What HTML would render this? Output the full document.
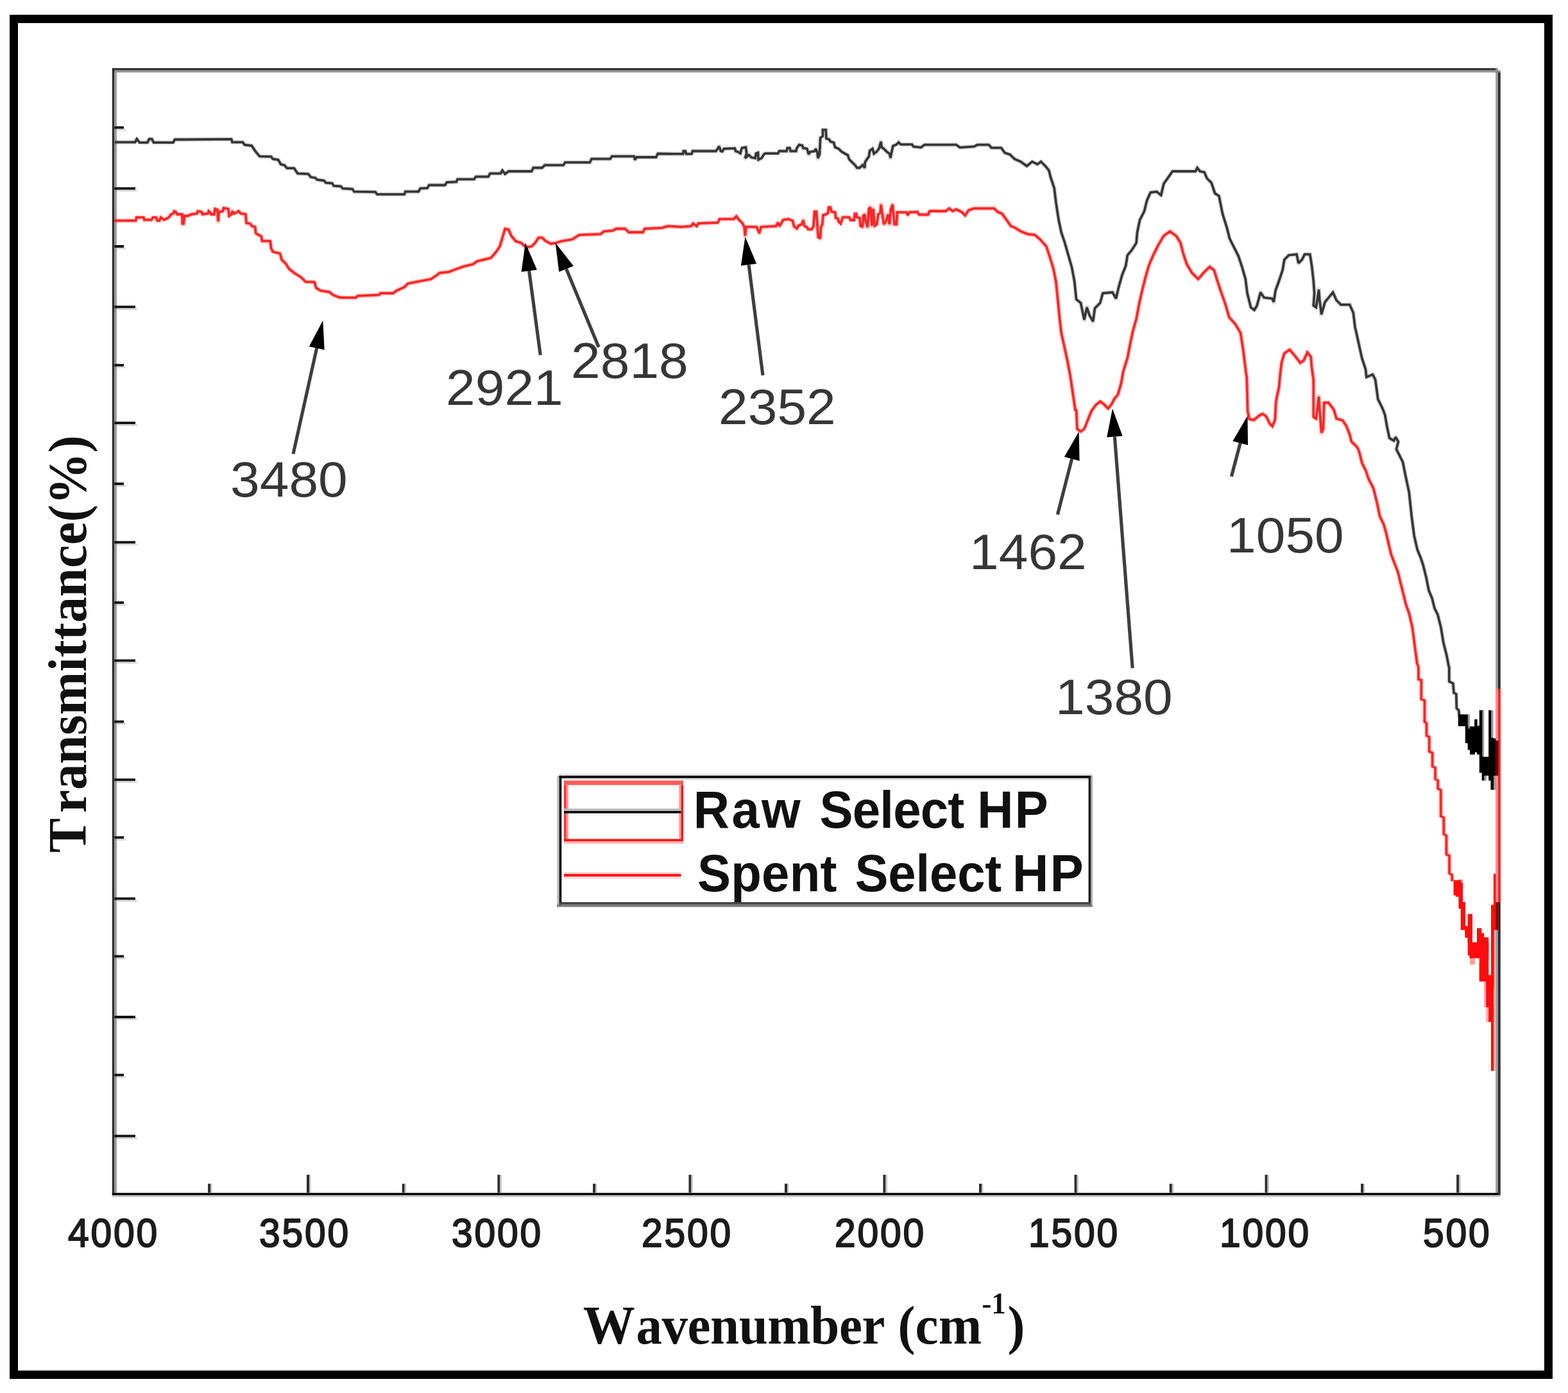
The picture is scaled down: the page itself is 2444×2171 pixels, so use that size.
<!DOCTYPE html>
<html lang="en">
<head>
<meta charset="utf-8">
<title>FTIR spectra - Raw and Spent Select HP</title>
<style>
html,body{margin:0;padding:0;background:#fff;}
body{width:2444px;height:2171px;position:relative;font-family:"Liberation Sans",sans-serif;color:#1a1a1a;}
.ann{position:absolute;font-family:"Liberation Sans",sans-serif;font-size:77.5px;line-height:1;white-space:nowrap;color:#363636;letter-spacing:0px;transform-origin:0 0;transform:scaleX(1.06);}
.xt{position:absolute;font-family:"Liberation Sans",sans-serif;font-weight:normal;-webkit-text-stroke:2px #1c1c1c;font-size:62.5px;line-height:1;white-space:nowrap;color:#1c1c1c;transform-origin:0 0;transform:scaleX(0.94);letter-spacing:3.0px;}
.leg{position:absolute;font-family:"Liberation Sans",sans-serif;font-weight:bold;font-size:78px;line-height:1;white-space:nowrap;color:#111;transform-origin:0 66px;transform:scaleY(1.035);}
.legline{position:absolute;left:0;top:0;width:0;height:0;}
.xl{position:absolute;font-family:"Liberation Serif",serif;font-weight:bold;font-size:81px;line-height:1;white-space:nowrap;color:#111;transform-origin:0 0;transform:scaleY(1.05);}
.xl sup{font-size:0.55em;line-height:0;vertical-align:baseline;position:relative;top:-1.0em;}
.yl{position:absolute;font-family:"Liberation Serif",serif;font-weight:bold;font-size:81px;line-height:1;white-space:nowrap;color:#111;transform-origin:0 0;transform:rotate(-90deg) scaleY(1.05);}
</style>
</head>
<body>
<svg width="2444" height="2171" viewBox="0 0 2444 2171" style="position:absolute;left:0;top:0"><rect x="21.5" y="29.5" width="2392" height="2113" fill="none" stroke="#000" stroke-width="13"/><rect x="175" y="106.2" width="2156" height="3.5" fill="#2e2e2e"/><rect x="178.4" y="109.7" width="2156.6" height="3.3" fill="#999"/><rect x="2331" y="106.2" width="4" height="7" fill="#8c8c8c"/><rect x="2335" y="109.7" width="3.8" height="3.4" fill="#8c8c8c"/><rect x="174.8" y="106.2" width="3.6" height="1756.6" fill="#2e2e2e"/><rect x="178.4" y="113" width="3.5" height="1746.2" fill="#999"/><rect x="2331.2" y="113" width="3.8" height="1746.2" fill="#999"/><rect x="2335" y="113" width="3.8" height="1749.8" fill="#2e2e2e"/><rect x="182" y="1855.6" width="2149" height="3.6" fill="#f3f3f3"/><rect x="174.8" y="1859.2" width="2160.2" height="3.6" fill="#000"/><rect x="174.8" y="1862.8" width="2164.0" height="3.0" fill="#cbcbcb"/><rect x="178.4" y="196.8" width="14.6" height="4" fill="#141414"/><rect x="182" y="200.8" width="14.0" height="2.6" fill="#d4d4d4"/><rect x="178.4" y="291.8" width="32.6" height="4" fill="#141414"/><rect x="182" y="295.8" width="32.0" height="2.6" fill="#d4d4d4"/><rect x="178.4" y="382.0" width="14.6" height="4" fill="#141414"/><rect x="182" y="386.0" width="14.0" height="2.6" fill="#d4d4d4"/><rect x="178.4" y="476.4" width="32.6" height="4" fill="#141414"/><rect x="182" y="480.4" width="32.0" height="2.6" fill="#d4d4d4"/><rect x="178.4" y="567.2" width="14.6" height="4" fill="#141414"/><rect x="182" y="571.2" width="14.0" height="2.6" fill="#d4d4d4"/><rect x="178.4" y="657.2" width="32.6" height="4" fill="#141414"/><rect x="182" y="661.2" width="32.0" height="2.6" fill="#d4d4d4"/><rect x="178.4" y="752.0" width="14.6" height="4" fill="#141414"/><rect x="182" y="756.0" width="14.0" height="2.6" fill="#d4d4d4"/><rect x="178.4" y="843.2" width="32.6" height="4" fill="#141414"/><rect x="182" y="847.2" width="32.0" height="2.6" fill="#d4d4d4"/><rect x="178.4" y="937.2" width="14.6" height="4" fill="#141414"/><rect x="182" y="941.2" width="14.0" height="2.6" fill="#d4d4d4"/><rect x="178.4" y="1027.6" width="32.6" height="4" fill="#141414"/><rect x="182" y="1031.6" width="32.0" height="2.6" fill="#d4d4d4"/><rect x="178.4" y="1122.8" width="14.6" height="4" fill="#141414"/><rect x="182" y="1126.8" width="14.0" height="2.6" fill="#d4d4d4"/><rect x="178.4" y="1213.3" width="32.6" height="4" fill="#141414"/><rect x="182" y="1217.3" width="32.0" height="2.6" fill="#d4d4d4"/><rect x="178.4" y="1303.3" width="14.6" height="4" fill="#141414"/><rect x="182" y="1307.3" width="14.0" height="2.6" fill="#d4d4d4"/><rect x="178.4" y="1398.6" width="32.6" height="4" fill="#141414"/><rect x="182" y="1402.6" width="32.0" height="2.6" fill="#d4d4d4"/><rect x="178.4" y="1488.5" width="14.6" height="4" fill="#141414"/><rect x="182" y="1492.5" width="14.0" height="2.6" fill="#d4d4d4"/><rect x="178.4" y="1583.0" width="32.6" height="4" fill="#141414"/><rect x="182" y="1587.0" width="32.0" height="2.6" fill="#d4d4d4"/><rect x="178.4" y="1673.5" width="14.6" height="4" fill="#141414"/><rect x="182" y="1677.5" width="14.0" height="2.6" fill="#d4d4d4"/><rect x="178.4" y="1768.6" width="32.6" height="4" fill="#141414"/><rect x="182" y="1772.6" width="32.0" height="2.6" fill="#d4d4d4"/><rect x="324.1" y="1844.8" width="4" height="14" fill="#2c2c2c"/><rect x="328.1" y="1844.8" width="2.4" height="14" fill="#c4c4c4"/><rect x="478.0" y="1830.8" width="4" height="28" fill="#2c2c2c"/><rect x="482.0" y="1830.8" width="2.4" height="28" fill="#c4c4c4"/><rect x="626.7" y="1844.8" width="4" height="14" fill="#2c2c2c"/><rect x="630.7" y="1844.8" width="2.4" height="14" fill="#c4c4c4"/><rect x="775.4" y="1830.8" width="4" height="28" fill="#2c2c2c"/><rect x="779.4" y="1830.8" width="2.4" height="28" fill="#c4c4c4"/><rect x="924.1" y="1844.8" width="4" height="14" fill="#2c2c2c"/><rect x="928.1" y="1844.8" width="2.4" height="14" fill="#c4c4c4"/><rect x="1073.5" y="1830.8" width="4" height="28" fill="#2c2c2c"/><rect x="1077.5" y="1830.8" width="2.4" height="28" fill="#c4c4c4"/><rect x="1223.0" y="1844.8" width="4" height="14" fill="#2c2c2c"/><rect x="1227.0" y="1844.8" width="2.4" height="14" fill="#c4c4c4"/><rect x="1376.5" y="1830.8" width="4" height="28" fill="#2c2c2c"/><rect x="1380.5" y="1830.8" width="2.4" height="28" fill="#c4c4c4"/><rect x="1526.0" y="1844.8" width="4" height="14" fill="#2c2c2c"/><rect x="1530.0" y="1844.8" width="2.4" height="14" fill="#c4c4c4"/><rect x="1674.6" y="1830.8" width="4" height="28" fill="#2c2c2c"/><rect x="1678.6" y="1830.8" width="2.4" height="28" fill="#c4c4c4"/><rect x="1822.8" y="1844.8" width="4" height="14" fill="#2c2c2c"/><rect x="1826.8" y="1844.8" width="2.4" height="14" fill="#c4c4c4"/><rect x="1971.6" y="1830.8" width="4" height="28" fill="#2c2c2c"/><rect x="1975.6" y="1830.8" width="2.4" height="28" fill="#c4c4c4"/><rect x="2121.1" y="1844.8" width="4" height="14" fill="#2c2c2c"/><rect x="2125.1" y="1844.8" width="2.4" height="14" fill="#c4c4c4"/><rect x="2270.2" y="1830.8" width="4" height="28" fill="#2c2c2c"/><rect x="2274.2" y="1830.8" width="2.4" height="28" fill="#c4c4c4"/><path id="raw-curve-blur" d="M178.9,221.6 L210.6,221.6 L213.3,216.6 L217.5,222.1 L229.8,222.1 L232.6,216.6 L236.7,216.6 L239.5,222.1 L269.8,222.1 L272.5,217.5 L279.4,217.5 L360.6,216.9 L362.0,221.6 L378.5,221.6 L381.3,225.7 L392.3,227.1 L397.8,235.4 L404.7,243.6 L422.6,244.2 L425.3,247.7 L433.6,249.1 L437.7,256.0 L443.2,257.4 L447.4,262.1 L458.4,262.1 L463.9,270.3 L480.4,271.1 L484.5,276.1 L491.4,277.2 L494.2,280.0 L505.2,281.6 L507.9,284.9 L517.6,285.5 L520.3,289.6 L531.3,290.4 L534.1,293.7 L549.2,294.5 L552.0,298.7 L585.0,299.2 L587.8,302.8 L630.3,302.8 L631.7,298.7 L652.3,298.7 L655.1,293.7 L666.1,293.2 L668.8,288.5 L693.6,288.5 L696.4,284.1 L711.5,283.5 L712.9,279.4 L739.0,279.4 L741.8,275.3 L761.1,275.3 L763.8,270.3 L780.3,270.3 L783.1,265.6 L787.2,271.1 L792.7,267.0 L828.5,267.0 L831.3,261.5 L845.0,261.5 L849.2,257.4 L878.1,257.4 L880.8,253.2 L919.4,253.2 L922.1,247.7 L951.0,247.7 L953.8,243.6 L988.2,243.6 L989.6,249.1 L992.3,245.0 L1022.6,245.0 L1025.4,239.5 L1050.0,239.8 L1064.7,239.8 L1065.3,235.5 L1068.3,235.5 L1069.6,239.8 L1078.1,239.8 L1079.4,235.5 L1116.0,235.5 L1118.5,231.8 L1120.9,228.1 L1123.4,235.5 L1125.8,236.1 L1128.3,231.8 L1145.4,231.2 L1146.6,235.5 L1150.3,236.7 L1154.0,239.1 L1156.4,230.6 L1162.5,229.4 L1163.7,239.1 L1161.3,246.5 L1167.4,241.6 L1171.1,245.3 L1177.2,246.5 L1178.4,239.1 L1181.5,237.9 L1182.1,248.9 L1187.0,246.5 L1190.7,240.4 L1193.1,239.1 L1212.7,239.1 L1214.5,235.5 L1226.1,235.5 L1227.3,230.6 L1231.0,230.6 L1232.2,235.5 L1240.8,235.5 L1242.0,230.6 L1245.7,225.7 L1250.6,226.9 L1251.8,230.6 L1257.9,231.8 L1260.4,240.4 L1262.8,236.7 L1270.2,235.5 L1271.4,231.8 L1273.8,236.7 L1275.0,246.5 L1277.5,240.4 L1278.7,214.7 L1282.4,212.2 L1282.4,202.4 L1287.3,202.4 L1287.9,215.9 L1292.2,217.1 L1294.6,220.8 L1299.5,222.0 L1301.6,229.6 L1307.1,231.8 L1311.5,236.2 L1317.0,239.5 L1321.4,241.7 L1323.6,248.3 L1326.9,251.6 L1330.2,254.9 L1333.5,258.2 L1335.7,261.5 L1340.1,261.5 L1344.5,257.1 L1347.8,261.5 L1348.4,252.7 L1351.1,248.3 L1354.4,243.9 L1355.6,235.1 L1360.0,231.8 L1362.2,239.5 L1366.6,236.2 L1369.9,231.8 L1373.2,220.7 L1374.3,229.6 L1377.6,231.8 L1382.0,236.2 L1386.4,239.5 L1388.0,246.1 L1389.7,237.3 L1391.9,227.4 L1397.4,225.2 L1400.7,221.9 L1404.0,225.2 L1421.6,225.2 L1423.8,228.5 L1435.5,229.8 L1441.0,225.7 L1490.5,225.7 L1496.0,229.8 L1518.1,228.5 L1523.6,225.7 L1527.5,225.7 L1541.3,225.7 L1545.4,230.4 L1560.6,230.4 L1566.1,238.1 L1574.3,240.9 L1581.2,247.7 L1590.9,251.9 L1600.5,258.8 L1608.8,251.9 L1617.0,256.0 L1622.5,251.9 L1629.4,258.8 L1634.9,265.6 L1637.7,276.7 L1643.2,293.2 L1645.9,315.2 L1650.1,342.7 L1654.2,362.0 L1659.7,378.5 L1665.2,397.8 L1670.7,417.1 L1674.8,439.1 L1677.6,466.6 L1684.5,472.1 L1690.0,498.3 L1694.1,479.0 L1698.2,491.4 L1703.7,501.0 L1706.5,480.4 L1714.8,472.1 L1718.9,457.0 L1734.0,455.6 L1739.5,465.3 L1743.7,447.4 L1749.2,428.1 L1754.7,414.3 L1757.4,397.8 L1764.3,389.5 L1771.2,378.5 L1772.6,362.0 L1776.7,342.7 L1783.6,329.0 L1787.7,312.4 L1793.2,300.1 L1802.9,298.7 L1809.7,304.2 L1813.9,286.3 L1820.8,276.7 L1827.6,267.0 L1863.4,267.0 L1866.2,261.5 L1870.3,267.0 L1877.2,268.4 L1881.3,278.0 L1888.2,284.9 L1893.7,301.4 L1900.0,305.5 L1905.5,333.0 L1912.4,355.1 L1916.5,371.6 L1923.4,385.4 L1930.3,399.1 L1935.8,415.6 L1941.3,434.9 L1944.1,456.9 L1949.6,479.0 L1955.1,483.1 L1959.2,476.2 L1964.7,455.6 L1970.2,463.8 L1982.6,465.2 L1985.4,470.7 L1988.1,452.8 L1993.6,437.7 L1999.1,421.1 L2001.9,404.6 L2008.8,397.7 L2021.1,396.4 L2023.9,410.1 L2029.4,404.6 L2033.5,396.4 L2041.8,396.4 L2044.5,412.9 L2047.3,437.7 L2048.7,456.9 L2047.3,476.2 L2051.4,479.0 L2055.6,451.4 L2056.9,468.0 L2059.7,490.0 L2065.2,470.7 L2072.1,462.4 L2077.6,455.6 L2083.1,468.0 L2090.0,474.8 L2103.7,474.8 L2109.3,487.2 L2112.0,509.3 L2117.5,534.0 L2123.0,558.8 L2128.5,575.3 L2129.9,587.7 L2139.5,583.6 L2143.7,591.9 L2147.8,622.1 L2154.7,635.9 L2158.8,646.9 L2161.6,663.4 L2165.7,682.7 L2172.6,686.8 L2175.3,681.3 L2179.5,688.2 L2176.5,700.0 L2180.4,707.9 L2186.4,719.8 L2190.4,739.7 L2196.3,767.4 L2200.3,805.1 L2204.2,834.8 L2209.2,856.6 L2214.1,868.5 L2218.1,880.4 L2223.1,900.3 L2227.0,920.1 L2232.0,932.0 L2236.0,947.9 L2240.9,957.8 L2245.9,977.6 L2249.8,1001.4 L2254.8,1021.2 L2257.8,1037.1 L2258.8,1040.0 L2258.8,1062.0 L2264.9,1065.3 L2266.0,1079.6 L2269.8,1081.9 L2270.4,1103.9 L2273.7,1107.2 L2274.8,1117.1" fill="none" stroke="#000" stroke-opacity="0.13" stroke-width="7.4" stroke-linejoin="round"/><path id="raw-curve" d="M178.9,221.6 L210.6,221.6 L213.3,216.6 L217.5,222.1 L229.8,222.1 L232.6,216.6 L236.7,216.6 L239.5,222.1 L269.8,222.1 L272.5,217.5 L279.4,217.5 L360.6,216.9 L362.0,221.6 L378.5,221.6 L381.3,225.7 L392.3,227.1 L397.8,235.4 L404.7,243.6 L422.6,244.2 L425.3,247.7 L433.6,249.1 L437.7,256.0 L443.2,257.4 L447.4,262.1 L458.4,262.1 L463.9,270.3 L480.4,271.1 L484.5,276.1 L491.4,277.2 L494.2,280.0 L505.2,281.6 L507.9,284.9 L517.6,285.5 L520.3,289.6 L531.3,290.4 L534.1,293.7 L549.2,294.5 L552.0,298.7 L585.0,299.2 L587.8,302.8 L630.3,302.8 L631.7,298.7 L652.3,298.7 L655.1,293.7 L666.1,293.2 L668.8,288.5 L693.6,288.5 L696.4,284.1 L711.5,283.5 L712.9,279.4 L739.0,279.4 L741.8,275.3 L761.1,275.3 L763.8,270.3 L780.3,270.3 L783.1,265.6 L787.2,271.1 L792.7,267.0 L828.5,267.0 L831.3,261.5 L845.0,261.5 L849.2,257.4 L878.1,257.4 L880.8,253.2 L919.4,253.2 L922.1,247.7 L951.0,247.7 L953.8,243.6 L988.2,243.6 L989.6,249.1 L992.3,245.0 L1022.6,245.0 L1025.4,239.5 L1050.0,239.8 L1064.7,239.8 L1065.3,235.5 L1068.3,235.5 L1069.6,239.8 L1078.1,239.8 L1079.4,235.5 L1116.0,235.5 L1118.5,231.8 L1120.9,228.1 L1123.4,235.5 L1125.8,236.1 L1128.3,231.8 L1145.4,231.2 L1146.6,235.5 L1150.3,236.7 L1154.0,239.1 L1156.4,230.6 L1162.5,229.4 L1163.7,239.1 L1161.3,246.5 L1167.4,241.6 L1171.1,245.3 L1177.2,246.5 L1178.4,239.1 L1181.5,237.9 L1182.1,248.9 L1187.0,246.5 L1190.7,240.4 L1193.1,239.1 L1212.7,239.1 L1214.5,235.5 L1226.1,235.5 L1227.3,230.6 L1231.0,230.6 L1232.2,235.5 L1240.8,235.5 L1242.0,230.6 L1245.7,225.7 L1250.6,226.9 L1251.8,230.6 L1257.9,231.8 L1260.4,240.4 L1262.8,236.7 L1270.2,235.5 L1271.4,231.8 L1273.8,236.7 L1275.0,246.5 L1277.5,240.4 L1278.7,214.7 L1282.4,212.2 L1282.4,202.4 L1287.3,202.4 L1287.9,215.9 L1292.2,217.1 L1294.6,220.8 L1299.5,222.0 L1301.6,229.6 L1307.1,231.8 L1311.5,236.2 L1317.0,239.5 L1321.4,241.7 L1323.6,248.3 L1326.9,251.6 L1330.2,254.9 L1333.5,258.2 L1335.7,261.5 L1340.1,261.5 L1344.5,257.1 L1347.8,261.5 L1348.4,252.7 L1351.1,248.3 L1354.4,243.9 L1355.6,235.1 L1360.0,231.8 L1362.2,239.5 L1366.6,236.2 L1369.9,231.8 L1373.2,220.7 L1374.3,229.6 L1377.6,231.8 L1382.0,236.2 L1386.4,239.5 L1388.0,246.1 L1389.7,237.3 L1391.9,227.4 L1397.4,225.2 L1400.7,221.9 L1404.0,225.2 L1421.6,225.2 L1423.8,228.5 L1435.5,229.8 L1441.0,225.7 L1490.5,225.7 L1496.0,229.8 L1518.1,228.5 L1523.6,225.7 L1527.5,225.7 L1541.3,225.7 L1545.4,230.4 L1560.6,230.4 L1566.1,238.1 L1574.3,240.9 L1581.2,247.7 L1590.9,251.9 L1600.5,258.8 L1608.8,251.9 L1617.0,256.0 L1622.5,251.9 L1629.4,258.8 L1634.9,265.6 L1637.7,276.7 L1643.2,293.2 L1645.9,315.2 L1650.1,342.7 L1654.2,362.0 L1659.7,378.5 L1665.2,397.8 L1670.7,417.1 L1674.8,439.1 L1677.6,466.6 L1684.5,472.1 L1690.0,498.3 L1694.1,479.0 L1698.2,491.4 L1703.7,501.0 L1706.5,480.4 L1714.8,472.1 L1718.9,457.0 L1734.0,455.6 L1739.5,465.3 L1743.7,447.4 L1749.2,428.1 L1754.7,414.3 L1757.4,397.8 L1764.3,389.5 L1771.2,378.5 L1772.6,362.0 L1776.7,342.7 L1783.6,329.0 L1787.7,312.4 L1793.2,300.1 L1802.9,298.7 L1809.7,304.2 L1813.9,286.3 L1820.8,276.7 L1827.6,267.0 L1863.4,267.0 L1866.2,261.5 L1870.3,267.0 L1877.2,268.4 L1881.3,278.0 L1888.2,284.9 L1893.7,301.4 L1900.0,305.5 L1905.5,333.0 L1912.4,355.1 L1916.5,371.6 L1923.4,385.4 L1930.3,399.1 L1935.8,415.6 L1941.3,434.9 L1944.1,456.9 L1949.6,479.0 L1955.1,483.1 L1959.2,476.2 L1964.7,455.6 L1970.2,463.8 L1982.6,465.2 L1985.4,470.7 L1988.1,452.8 L1993.6,437.7 L1999.1,421.1 L2001.9,404.6 L2008.8,397.7 L2021.1,396.4 L2023.9,410.1 L2029.4,404.6 L2033.5,396.4 L2041.8,396.4 L2044.5,412.9 L2047.3,437.7 L2048.7,456.9 L2047.3,476.2 L2051.4,479.0 L2055.6,451.4 L2056.9,468.0 L2059.7,490.0 L2065.2,470.7 L2072.1,462.4 L2077.6,455.6 L2083.1,468.0 L2090.0,474.8 L2103.7,474.8 L2109.3,487.2 L2112.0,509.3 L2117.5,534.0 L2123.0,558.8 L2128.5,575.3 L2129.9,587.7 L2139.5,583.6 L2143.7,591.9 L2147.8,622.1 L2154.7,635.9 L2158.8,646.9 L2161.6,663.4 L2165.7,682.7 L2172.6,686.8 L2175.3,681.3 L2179.5,688.2 L2176.5,700.0 L2180.4,707.9 L2186.4,719.8 L2190.4,739.7 L2196.3,767.4 L2200.3,805.1 L2204.2,834.8 L2209.2,856.6 L2214.1,868.5 L2218.1,880.4 L2223.1,900.3 L2227.0,920.1 L2232.0,932.0 L2236.0,947.9 L2240.9,957.8 L2245.9,977.6 L2249.8,1001.4 L2254.8,1021.2 L2257.8,1037.1 L2258.8,1040.0 L2258.8,1062.0 L2264.9,1065.3 L2266.0,1079.6 L2269.8,1081.9 L2270.4,1103.9 L2273.7,1107.2 L2274.8,1117.1" fill="none" stroke="#363636" stroke-width="3.8" stroke-linejoin="miter" stroke-miterlimit="2"/><rect x="2309.7" y="1106.8" width="3.5" height="73.4" fill="#9a9a9a"/><rect x="2312.4" y="1208.2" width="4.6" height="8.4" fill="#9a9a9a"/><rect x="2327.3" y="1208.2" width="4.6" height="22.7" fill="#9a9a9a"/><rect x="2287.1" y="1113.4" width="4.0" height="22.7" fill="#9a9a9a"/><rect x="2323.5" y="1106.8" width="4.0" height="43.7" fill="#9a9a9a"/><rect x="2272.8" y="1113.4" width="15.0" height="18.3" fill="#000"/><rect x="2283.8" y="1131.1" width="4.6" height="27.1" fill="#000"/><rect x="2287.7" y="1135.5" width="4.0" height="33.2" fill="#000"/><rect x="2291.0" y="1132.2" width="7.9" height="43.7" fill="#000"/><rect x="2298.1" y="1121.1" width="4.6" height="51.4" fill="#000"/><rect x="2302.0" y="1131.1" width="4.6" height="44.8" fill="#000"/><rect x="2305.8" y="1106.8" width="4.6" height="97.6" fill="#000"/><rect x="2309.7" y="1179.5" width="3.5" height="37.0" fill="#000"/><rect x="2312.4" y="1179.5" width="8.4" height="29.3" fill="#000"/><rect x="2320.2" y="1106.8" width="4.0" height="109.7" fill="#000"/><rect x="2323.5" y="1149.8" width="4.6" height="81.1" fill="#000"/><rect x="2327.3" y="1150.9" width="4.6" height="58.0" fill="#000"/><path id="spent-curve-blur" d="M178.0,343.8 L211.6,343.8 L212.8,338.9 L223.8,338.9 L225.0,342.6 L236.0,342.6 L238.5,338.9 L243.4,338.9 L245.2,343.8 L248.3,343.8 L250.7,338.9 L255.6,342.6 L263.0,338.9 L266.6,334.0 L270.3,332.8 L271.5,329.1 L274.0,330.4 L276.4,334.0 L283.7,334.0 L284.4,348.7 L286.2,348.7 L287.4,336.5 L292.3,336.5 L298.4,334.0 L307.0,332.8 L308.2,329.1 L314.3,330.4 L315.5,334.0 L324.1,332.8 L325.3,329.1 L327.8,331.6 L329.0,334.0 L333.9,334.0 L335.1,325.5 L338.8,326.7 L340.0,345.0 L341.2,330.4 L347.3,329.1 L348.6,324.2 L355.9,325.5 L357.1,336.5 L360.8,334.0 L362.0,329.1 L364.5,332.8 L368.1,331.6 L371.8,329.1 L375.5,332.8 L382.8,334.0 L384.0,347.5 L390.2,348.7 L392.6,352.4 L397.5,353.6 L398.7,363.4 L402.4,365.8 L407.3,368.3 L408.5,375.6 L419.5,375.6 L421.2,375.8 L422.6,386.8 L425.3,392.3 L436.3,395.0 L439.1,404.7 L446.0,411.6 L450.1,418.4 L458.4,425.3 L469.4,432.2 L476.3,439.1 L490.0,439.6 L492.8,448.7 L499.7,452.9 L513.4,455.1 L518.9,459.7 L530.0,463.9 L554.7,463.9 L557.5,461.1 L590.5,459.7 L593.3,457.0 L612.6,457.0 L618.1,452.9 L630.3,447.4 L635.8,441.9 L649.6,439.1 L671.6,435.0 L679.8,429.5 L685.4,425.3 L699.1,424.0 L710.1,419.8 L721.1,415.7 L737.7,411.6 L743.2,407.4 L754.2,404.7 L765.2,401.9 L773.5,392.3 L779.0,384.0 L783.1,370.3 L787.2,356.5 L792.7,357.9 L796.9,367.5 L803.7,375.8 L812.0,378.5 L820.3,385.4 L828.5,384.0 L834.0,378.5 L839.5,370.3 L845.0,370.3 L850.6,375.8 L858.8,379.9 L867.1,378.5 L875.3,375.8 L891.9,373.0 L902.9,366.1 L935.9,364.8 L941.4,360.6 L955.2,359.3 L960.7,356.5 L974.4,356.5 L980.0,362.0 L1002.0,362.0 L1004.7,356.5 L1032.3,355.1 L1040.5,352.4 L1062.6,353.7 L1077.5,352.4 L1080.3,348.2 L1085.8,352.4 L1088.5,348.2 L1118.8,346.9 L1121.6,341.4 L1143.6,341.4 L1147.7,337.2 L1151.9,342.7 L1157.4,348.2 L1160.1,353.7 L1161.5,367.5 L1162.9,353.7 L1179.4,353.7 L1183.5,363.4 L1186.3,353.7 L1209.7,352.4 L1212.4,346.9 L1215.2,352.4 L1220.7,342.7 L1229.0,341.4 L1235.5,344.1 L1237.7,352.9 L1242.1,356.2 L1244.3,351.8 L1249.8,349.6 L1252.0,343.0 L1253.7,351.8 L1257.5,354.0 L1259.7,357.3 L1265.2,357.3 L1268.0,352.9 L1269.6,329.8 L1272.4,329.8 L1273.5,343.0 L1275.2,369.4 L1278.5,371.6 L1279.6,354.0 L1281.8,349.6 L1282.9,335.3 L1287.3,334.2 L1290.6,332.0 L1291.7,323.2 L1294.4,323.2 L1296.1,329.8 L1301.6,330.9 L1302.7,339.7 L1306.0,340.8 L1307.1,345.2 L1310.4,348.5 L1312.0,343.0 L1313.7,338.6 L1323.6,338.6 L1325.8,343.0 L1331.3,343.0 L1332.4,333.1 L1334.6,333.1 L1335.7,338.6 L1340.1,339.7 L1341.2,351.8 L1344.5,354.0 L1345.6,336.4 L1347.8,334.2 L1348.9,343.0 L1352.2,354.0 L1354.4,325.4 L1356.7,323.2 L1358.9,351.8 L1361.1,325.4 L1363.3,351.8 L1366.6,349.6 L1368.8,334.2 L1372.1,332.0 L1373.2,318.8 L1375.4,334.2 L1377.6,349.6 L1380.9,345.2 L1384.2,334.2 L1386.4,349.6 L1388.6,325.4 L1391.3,318.8 L1394.1,349.6 L1397.4,349.6 L1398.5,330.9 L1412.8,330.9 L1415.0,335.3 L1417.2,330.9 L1430.0,330.3 L1432.7,334.5 L1446.5,334.5 L1449.2,329.0 L1474.0,329.0 L1479.5,324.8 L1485.0,329.0 L1490.5,326.2 L1498.8,330.3 L1504.3,335.8 L1509.8,327.6 L1518.1,324.8 L1549.6,324.8 L1555.1,330.3 L1561.9,333.1 L1568.8,342.7 L1575.7,352.4 L1582.6,355.1 L1590.9,360.6 L1601.9,364.8 L1612.9,366.1 L1621.1,373.0 L1630.8,384.0 L1636.3,400.6 L1641.8,418.4 L1645.9,439.1 L1648.7,466.6 L1651.4,494.2 L1654.2,518.9 L1659.7,543.7 L1663.8,563.0 L1668.0,585.0 L1672.1,612.6 L1676.2,640.1 L1677.6,638.1 L1679.0,668.4 L1684.5,672.5 L1690.0,668.4 L1695.5,654.6 L1701.0,640.9 L1707.9,631.2 L1714.8,625.7 L1720.3,629.8 L1727.1,636.7 L1732.7,629.8 L1736.8,621.6 L1742.3,615.3 L1747.8,596.0 L1750.6,579.5 L1757.4,557.5 L1761.6,535.5 L1765.7,516.2 L1771.2,496.9 L1775.3,474.9 L1779.5,455.6 L1785.0,433.6 L1790.5,414.3 L1797.4,397.8 L1805.6,381.3 L1813.9,367.5 L1823.5,360.6 L1833.1,367.5 L1840.0,378.5 L1844.2,395.0 L1849.7,411.6 L1857.9,425.3 L1867.6,435.0 L1875.8,425.3 L1885.5,415.7 L1892.3,421.2 L1897.9,439.1 L1903.4,455.6 L1910.2,474.9 L1915.7,494.2 L1925.4,505.2 L1933.6,518.9 L1937.8,546.5 L1941.9,579.5 L1943.3,588.5 L1944.7,640.9 L1947.4,653.2 L1954.3,654.6 L1962.6,647.7 L1968.1,645.0 L1973.6,649.1 L1979.1,660.1 L1983.2,664.3 L1987.3,654.6 L1988.7,627.1 L1989.5,622.1 L1993.6,602.9 L1995.0,586.3 L1997.7,564.3 L2001.9,550.6 L2010.1,545.0 L2018.4,554.7 L2026.7,565.7 L2032.2,561.6 L2037.7,549.2 L2043.2,556.1 L2044.5,572.6 L2047.3,591.9 L2047.3,624.9 L2047.3,649.7 L2051.4,652.4 L2055.6,618.0 L2056.9,638.7 L2059.7,674.4 L2062.4,668.9 L2063.8,627.6 L2070.7,627.6 L2079.0,638.7 L2083.1,652.4 L2092.7,655.2 L2098.2,663.4 L2103.7,677.2 L2106.5,688.2 L2114.8,696.5 L2117.0,700.0 L2119.0,705.9 L2122.9,721.8 L2128.9,733.7 L2132.8,745.6 L2140.8,761.5 L2146.7,785.3 L2150.7,805.1 L2156.6,817.0 L2160.6,830.9 L2164.6,848.7 L2168.5,864.6 L2174.5,880.4 L2178.5,890.4 L2182.4,906.2 L2186.4,922.1 L2191.3,941.9 L2196.3,955.8 L2201.3,977.6 L2205.2,1007.3 L2208.6,1033.1 L2210.9,1040.0 L2210.9,1058.7 L2215.3,1060.0 L2215.3,1089.6 L2220.5,1091.8 L2220.5,1124.8 L2223.5,1127.3 L2223.5,1146.3 L2227.7,1148.7 L2227.7,1171.0 L2232.6,1173.5 L2232.6,1194.2 L2237.1,1196.7 L2237.1,1214.0 L2241.2,1216.5 L2241.2,1228.9 L2245.8,1231.4 L2245.8,1271.8 L2250.3,1274.3 L2250.3,1299.9 L2254.4,1302.4 L2254.4,1331.3 L2259.1,1333.8 L2259.1,1361.0 L2263.2,1363.5 L2263.2,1373.5" fill="none" stroke="#ff0000" stroke-opacity="0.2" stroke-width="7.4" stroke-linejoin="round"/><path id="spent-curve" d="M178.0,343.8 L211.6,343.8 L212.8,338.9 L223.8,338.9 L225.0,342.6 L236.0,342.6 L238.5,338.9 L243.4,338.9 L245.2,343.8 L248.3,343.8 L250.7,338.9 L255.6,342.6 L263.0,338.9 L266.6,334.0 L270.3,332.8 L271.5,329.1 L274.0,330.4 L276.4,334.0 L283.7,334.0 L284.4,348.7 L286.2,348.7 L287.4,336.5 L292.3,336.5 L298.4,334.0 L307.0,332.8 L308.2,329.1 L314.3,330.4 L315.5,334.0 L324.1,332.8 L325.3,329.1 L327.8,331.6 L329.0,334.0 L333.9,334.0 L335.1,325.5 L338.8,326.7 L340.0,345.0 L341.2,330.4 L347.3,329.1 L348.6,324.2 L355.9,325.5 L357.1,336.5 L360.8,334.0 L362.0,329.1 L364.5,332.8 L368.1,331.6 L371.8,329.1 L375.5,332.8 L382.8,334.0 L384.0,347.5 L390.2,348.7 L392.6,352.4 L397.5,353.6 L398.7,363.4 L402.4,365.8 L407.3,368.3 L408.5,375.6 L419.5,375.6 L421.2,375.8 L422.6,386.8 L425.3,392.3 L436.3,395.0 L439.1,404.7 L446.0,411.6 L450.1,418.4 L458.4,425.3 L469.4,432.2 L476.3,439.1 L490.0,439.6 L492.8,448.7 L499.7,452.9 L513.4,455.1 L518.9,459.7 L530.0,463.9 L554.7,463.9 L557.5,461.1 L590.5,459.7 L593.3,457.0 L612.6,457.0 L618.1,452.9 L630.3,447.4 L635.8,441.9 L649.6,439.1 L671.6,435.0 L679.8,429.5 L685.4,425.3 L699.1,424.0 L710.1,419.8 L721.1,415.7 L737.7,411.6 L743.2,407.4 L754.2,404.7 L765.2,401.9 L773.5,392.3 L779.0,384.0 L783.1,370.3 L787.2,356.5 L792.7,357.9 L796.9,367.5 L803.7,375.8 L812.0,378.5 L820.3,385.4 L828.5,384.0 L834.0,378.5 L839.5,370.3 L845.0,370.3 L850.6,375.8 L858.8,379.9 L867.1,378.5 L875.3,375.8 L891.9,373.0 L902.9,366.1 L935.9,364.8 L941.4,360.6 L955.2,359.3 L960.7,356.5 L974.4,356.5 L980.0,362.0 L1002.0,362.0 L1004.7,356.5 L1032.3,355.1 L1040.5,352.4 L1062.6,353.7 L1077.5,352.4 L1080.3,348.2 L1085.8,352.4 L1088.5,348.2 L1118.8,346.9 L1121.6,341.4 L1143.6,341.4 L1147.7,337.2 L1151.9,342.7 L1157.4,348.2 L1160.1,353.7 L1161.5,367.5 L1162.9,353.7 L1179.4,353.7 L1183.5,363.4 L1186.3,353.7 L1209.7,352.4 L1212.4,346.9 L1215.2,352.4 L1220.7,342.7 L1229.0,341.4 L1235.5,344.1 L1237.7,352.9 L1242.1,356.2 L1244.3,351.8 L1249.8,349.6 L1252.0,343.0 L1253.7,351.8 L1257.5,354.0 L1259.7,357.3 L1265.2,357.3 L1268.0,352.9 L1269.6,329.8 L1272.4,329.8 L1273.5,343.0 L1275.2,369.4 L1278.5,371.6 L1279.6,354.0 L1281.8,349.6 L1282.9,335.3 L1287.3,334.2 L1290.6,332.0 L1291.7,323.2 L1294.4,323.2 L1296.1,329.8 L1301.6,330.9 L1302.7,339.7 L1306.0,340.8 L1307.1,345.2 L1310.4,348.5 L1312.0,343.0 L1313.7,338.6 L1323.6,338.6 L1325.8,343.0 L1331.3,343.0 L1332.4,333.1 L1334.6,333.1 L1335.7,338.6 L1340.1,339.7 L1341.2,351.8 L1344.5,354.0 L1345.6,336.4 L1347.8,334.2 L1348.9,343.0 L1352.2,354.0 L1354.4,325.4 L1356.7,323.2 L1358.9,351.8 L1361.1,325.4 L1363.3,351.8 L1366.6,349.6 L1368.8,334.2 L1372.1,332.0 L1373.2,318.8 L1375.4,334.2 L1377.6,349.6 L1380.9,345.2 L1384.2,334.2 L1386.4,349.6 L1388.6,325.4 L1391.3,318.8 L1394.1,349.6 L1397.4,349.6 L1398.5,330.9 L1412.8,330.9 L1415.0,335.3 L1417.2,330.9 L1430.0,330.3 L1432.7,334.5 L1446.5,334.5 L1449.2,329.0 L1474.0,329.0 L1479.5,324.8 L1485.0,329.0 L1490.5,326.2 L1498.8,330.3 L1504.3,335.8 L1509.8,327.6 L1518.1,324.8 L1549.6,324.8 L1555.1,330.3 L1561.9,333.1 L1568.8,342.7 L1575.7,352.4 L1582.6,355.1 L1590.9,360.6 L1601.9,364.8 L1612.9,366.1 L1621.1,373.0 L1630.8,384.0 L1636.3,400.6 L1641.8,418.4 L1645.9,439.1 L1648.7,466.6 L1651.4,494.2 L1654.2,518.9 L1659.7,543.7 L1663.8,563.0 L1668.0,585.0 L1672.1,612.6 L1676.2,640.1 L1677.6,638.1 L1679.0,668.4 L1684.5,672.5 L1690.0,668.4 L1695.5,654.6 L1701.0,640.9 L1707.9,631.2 L1714.8,625.7 L1720.3,629.8 L1727.1,636.7 L1732.7,629.8 L1736.8,621.6 L1742.3,615.3 L1747.8,596.0 L1750.6,579.5 L1757.4,557.5 L1761.6,535.5 L1765.7,516.2 L1771.2,496.9 L1775.3,474.9 L1779.5,455.6 L1785.0,433.6 L1790.5,414.3 L1797.4,397.8 L1805.6,381.3 L1813.9,367.5 L1823.5,360.6 L1833.1,367.5 L1840.0,378.5 L1844.2,395.0 L1849.7,411.6 L1857.9,425.3 L1867.6,435.0 L1875.8,425.3 L1885.5,415.7 L1892.3,421.2 L1897.9,439.1 L1903.4,455.6 L1910.2,474.9 L1915.7,494.2 L1925.4,505.2 L1933.6,518.9 L1937.8,546.5 L1941.9,579.5 L1943.3,588.5 L1944.7,640.9 L1947.4,653.2 L1954.3,654.6 L1962.6,647.7 L1968.1,645.0 L1973.6,649.1 L1979.1,660.1 L1983.2,664.3 L1987.3,654.6 L1988.7,627.1 L1989.5,622.1 L1993.6,602.9 L1995.0,586.3 L1997.7,564.3 L2001.9,550.6 L2010.1,545.0 L2018.4,554.7 L2026.7,565.7 L2032.2,561.6 L2037.7,549.2 L2043.2,556.1 L2044.5,572.6 L2047.3,591.9 L2047.3,624.9 L2047.3,649.7 L2051.4,652.4 L2055.6,618.0 L2056.9,638.7 L2059.7,674.4 L2062.4,668.9 L2063.8,627.6 L2070.7,627.6 L2079.0,638.7 L2083.1,652.4 L2092.7,655.2 L2098.2,663.4 L2103.7,677.2 L2106.5,688.2 L2114.8,696.5 L2117.0,700.0 L2119.0,705.9 L2122.9,721.8 L2128.9,733.7 L2132.8,745.6 L2140.8,761.5 L2146.7,785.3 L2150.7,805.1 L2156.6,817.0 L2160.6,830.9 L2164.6,848.7 L2168.5,864.6 L2174.5,880.4 L2178.5,890.4 L2182.4,906.2 L2186.4,922.1 L2191.3,941.9 L2196.3,955.8 L2201.3,977.6 L2205.2,1007.3 L2208.6,1033.1 L2210.9,1040.0 L2210.9,1058.7 L2215.3,1060.0 L2215.3,1089.6 L2220.5,1091.8 L2220.5,1124.8 L2223.5,1127.3 L2223.5,1146.3 L2227.7,1148.7 L2227.7,1171.0 L2232.6,1173.5 L2232.6,1194.2 L2237.1,1196.7 L2237.1,1214.0 L2241.2,1216.5 L2241.2,1228.9 L2245.8,1231.4 L2245.8,1271.8 L2250.3,1274.3 L2250.3,1299.9 L2254.4,1302.4 L2254.4,1331.3 L2259.1,1333.8 L2259.1,1361.0 L2263.2,1363.5 L2263.2,1373.5" fill="none" stroke="#ff2626" stroke-width="3.8" stroke-linejoin="miter" stroke-miterlimit="2"/><rect x="2291.0" y="1492.7" width="7.9" height="10.6" fill="#ff9c9c"/><rect x="2273.4" y="1370.5" width="6.8" height="10.6" fill="#ff9c9c"/><rect x="2327.9" y="1448.7" width="4.0" height="91.7" fill="#ff9c9c"/><rect x="2327.3" y="1499.7" width="4.6" height="169.2" fill="#ffa8a8"/><rect x="2313.0" y="1526.6" width="4.0" height="43.1" fill="#ffa8a8"/><rect x="2316.3" y="1569.0" width="4.6" height="23.8" fill="#ffa8a8"/><rect x="2265.6" y="1371.6" width="11.7" height="23.8" fill="#ff0d0d"/><rect x="2268.9" y="1376.0" width="11.2" height="21.6" fill="#ff0d0d"/><rect x="2273.4" y="1396.9" width="6.8" height="19.4" fill="#ff0d0d"/><rect x="2276.7" y="1405.7" width="7.3" height="43.7" fill="#ff0d0d"/><rect x="2283.3" y="1443.2" width="7.9" height="18.3" fill="#ff0d0d"/><rect x="2287.7" y="1424.5" width="7.3" height="45.9" fill="#ff0d0d"/><rect x="2287.7" y="1460.8" width="4.0" height="28.2" fill="#ff0d0d"/><rect x="2290.4" y="1468.5" width="29.9" height="24.9" fill="#ff0d0d"/><rect x="2302.0" y="1446.5" width="7.3" height="22.7" fill="#ff0d0d"/><rect x="2308.6" y="1454.2" width="4.6" height="15.0" fill="#ff0d0d"/><rect x="2312.4" y="1460.8" width="7.9" height="32.6" fill="#ff0d0d"/><rect x="2305.8" y="1492.7" width="14.5" height="37.0" fill="#ff0d0d"/><rect x="2316.3" y="1521.4" width="11.7" height="19.0" fill="#ff0d0d"/><rect x="2324.0" y="1410.1" width="4.6" height="130.2" fill="#ff0d0d"/><rect x="2327.9" y="1361.7" width="7.6" height="87.7" fill="#ff0d0d"/><rect x="2305.8" y="1499.7" width="11.2" height="27.7" fill="#ff0d0d"/><rect x="2316.3" y="1519.5" width="11.7" height="50.3" fill="#ff0d0d"/><rect x="2320.2" y="1569.0" width="7.9" height="23.8" fill="#ff0d0d"/><rect x="2324.0" y="1592.2" width="4.0" height="76.7" fill="#ff0d0d"/><rect x="2331.4" y="1073.6" width="3.8" height="332.4" fill="#ff8f8f"/><rect x="2335.2" y="1073.6" width="3.6" height="332.4" fill="#ff2626"/><rect x="2331.2" y="1154.2" width="4.3" height="54.7" fill="#5a0000"/><rect x="2331.5" y="1406" width="3.7" height="43" fill="#8a0000"/><line x1="457.0" y1="707.5" x2="493.7" y2="542.5" stroke="#3e3e3e" stroke-width="5.2"/><polygon points="503.3,499.6 505.7,545.2 481.8,539.9" fill="#000"/><line x1="842.3" y1="553.3" x2="824.7" y2="422.1" stroke="#3e3e3e" stroke-width="5.2"/><polygon points="818.9,378.5 836.9,420.5 812.6,423.7" fill="#000"/><line x1="933.2" y1="541.0" x2="882.6" y2="419.1" stroke="#3e3e3e" stroke-width="5.2"/><polygon points="865.7,378.5 893.9,414.4 871.3,423.8" fill="#000"/><line x1="1189.0" y1="585.0" x2="1167.1" y2="412.5" stroke="#3e3e3e" stroke-width="5.2"/><polygon points="1161.5,368.9 1179.2,411.0 1154.9,414.1" fill="#000"/><line x1="1648.4" y1="802.0" x2="1670.7" y2="715.1" stroke="#3e3e3e" stroke-width="5.2"/><polygon points="1681.7,672.5 1682.6,718.2 1658.9,712.1" fill="#000"/><line x1="1765.2" y1="1041.4" x2="1737.4" y2="680.6" stroke="#3e3e3e" stroke-width="5.2"/><polygon points="1734.0,636.7 1749.6,679.6 1725.2,681.5" fill="#000"/><line x1="1919.4" y1="742.7" x2="1933.2" y2="690.5" stroke="#3e3e3e" stroke-width="5.2"/><polygon points="1944.5,648.0 1945.1,693.7 1921.4,687.4" fill="#000"/><rect x="871.7" y="1208.9" width="828.5" height="200.8" fill="#fff"/><rect x="868.2" y="1208.9" width="3.5" height="204.6" fill="#bdbdbd"/><rect x="871.7" y="1205.8" width="831.3" height="3.1" fill="#e4e4e4"/><rect x="875.2" y="1212.7" width="821.4" height="3.2" fill="#e0e0e0"/><rect x="868.2" y="1409.7" width="834.8" height="3.8" fill="#7a7a7a"/><rect x="1700.2" y="1208.9" width="2.8" height="200.8" fill="#aeaeae"/><rect x="871.7" y="1208.9" width="828.5" height="3.8" fill="#000"/><rect x="871.7" y="1208.9" width="3.6" height="200.8" fill="#000"/><rect x="1696.6" y="1208.9" width="3.6" height="200.8" fill="#1e1e1e"/><rect x="871.7" y="1405.9" width="828.5" height="3.8" fill="#444"/><rect x="879.0" y="1216.5" width="186.0" height="7.0" fill="#ff5c5c"/><rect x="879.0" y="1223.5" width="3.8" height="87.5" fill="#ff3434"/><rect x="882.8" y="1223.5" width="3.2" height="84.0" fill="#ff9a9a"/><rect x="1058.2" y="1223.5" width="3.2" height="84.0" fill="#ffa4a4"/><rect x="1061.4" y="1223.5" width="3.6" height="87.5" fill="#ff1414"/><rect x="879.0" y="1307.5" width="186.0" height="3.5" fill="#ff1414"/><rect x="879.0" y="1311.0" width="186.0" height="3.7" fill="#ffacac"/><rect x="879.0" y="1260.2" width="182.4" height="3.8" fill="#b8b8b8"/><rect x="879.0" y="1264.0" width="182.4" height="3.5" fill="#060606"/><rect x="879.0" y="1359.0" width="182.4" height="10.2" fill="#ffd6d6"/><rect x="879.0" y="1362.2" width="182.4" height="3.8" fill="#ff0000"/></svg>
<div class="ann" style="left:358.5px;top:709.0px">3480</div>
<div class="ann" style="left:694.6px;top:565.9px">2921</div>
<div class="ann" style="left:890.3px;top:523.9px">2818</div>
<div class="ann" style="left:1119.5px;top:596.0px">2352</div>
<div class="ann" style="left:1510.6px;top:822.1px">1462</div>
<div class="ann" style="left:1644.5px;top:1048.2px">1380</div>
<div class="ann" style="left:1911.6px;top:795.9px">1050</div>
<div class="xt" style="left:105.9px;top:1890.2px">4000</div>
<div class="xt" style="left:403.7px;top:1890.2px">3500</div>
<div class="xt" style="left:703.5px;top:1890.2px">3000</div>
<div class="xt" style="left:1000.0px;top:1890.2px">2500</div>
<div class="xt" style="left:1301.4px;top:1890.2px">2000</div>
<div class="xt" style="left:1602.8px;top:1890.2px">1500</div>
<div class="xt" style="left:1900.6px;top:1890.2px">1000</div>
<div class="xt" style="left:2218.4px;top:1890.2px">500</div>

<div class="legline"><span class="leg" style="left:1080.8px;top:1223.8px;letter-spacing:3.25px">Raw</span> <span class="leg" style="left:1277.6px;top:1223.8px;letter-spacing:-0.84px">Select</span> <span class="leg" style="left:1523.2px;top:1223.8px;letter-spacing:2.3px">HP</span></div>
<div class="legline"><span class="leg" style="left:1087.0px;top:1322.6px;letter-spacing:0.2px">Spent</span> <span class="leg" style="left:1332.5px;top:1322.6px;letter-spacing:-0.2px">Select</span> <span class="leg" style="left:1578.0px;top:1322.6px;letter-spacing:2.4px">HP</span></div>

<div class="xl" style="left:908.7px;top:2023.8px;letter-spacing:0.2px"><span style="letter-spacing:1.8px">W</span><span style="letter-spacing:-0.45px">avenumber</span> (cm<sup>-1</sup><span style="margin-left:2.5px">)</span></div>
<div class="yl" style="left:64.4px;top:1329.2px;letter-spacing:-0.07px"><span style="letter-spacing:8px">T</span>ransmittance(%)</div>
</body>
</html>
